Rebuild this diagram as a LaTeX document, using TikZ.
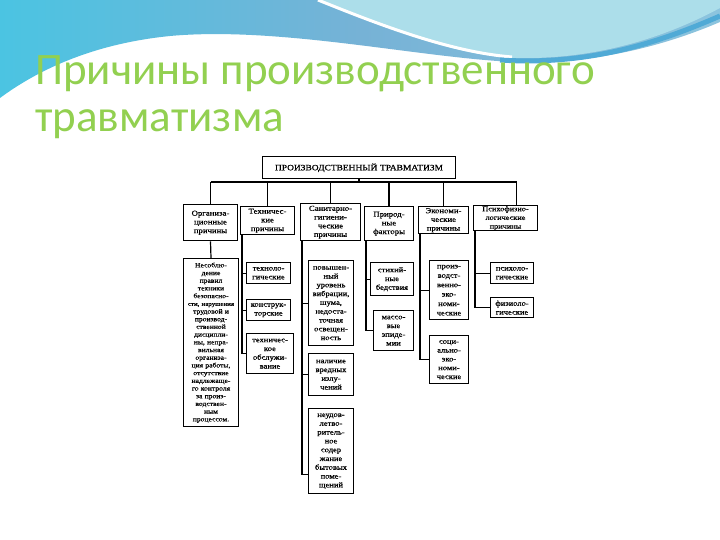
\documentclass[tikz,border=0pt]{standalone}
\usepackage{fontspec}
\setmainfont{Liberation Serif}
\newfontfamily\titlefont{Carlito}
\newfontfamily\scanfont{Liberation Serif}[FakeStretch=1.15, FakeBold=0.8]
\usetikzlibrary{calc}
\definecolor{titlegreen}{RGB}{146,208,80}
\definecolor{wavea}{RGB}{118,178,214}
\definecolor{waveb}{RGB}{140,196,222}
\definecolor{wavec}{RGB}{75,196,226}
\definecolor{swoosh}{RGB}{172,222,234}
\definecolor{stripe}{RGB}{80,170,214}
\tikzset{
  bx/.style={draw, line width=1.4pt, inner sep=0.3pt, align=center, anchor=north west,
    font=\scanfont\fontsize{7.4}{8.8}\selectfont},
  cat/.style={bx, font=\scanfont\fontsize{7.6}{8.7}\selectfont},
  ln/.style={line width=1.2pt},
  ttl/.style={anchor=base west, inner sep=0pt, text=titlegreen, font=\titlefont\fontsize{45}{50}\selectfont}
}
\begin{document}
\begin{tikzpicture}[x=1pt,y=-1pt]
\useasboundingbox (0,0) rectangle (720,540);
\fill[white] (0,0) rectangle (720,540);
% top wave
\shade[left color=wavec, right color=waveb, middle color=wavea]
  (0,0) -- (720,0) -- (720,22) .. controls (650,52) and (580,64) .. (515,62)
  .. controls (420,58) and (280,26) .. (170,36) .. controls (90,44) and (35,72) .. (0,98) -- cycle;
\fill[swoosh] (318,0) .. controls (380,25) and (450,55) .. (515,58)
  .. controls (600,60) and (670,35) .. (720,8) -- (720,0) -- cycle;
\draw[white, line width=3pt] (318,0) .. controls (380,25) and (450,52) .. (512,57);
\draw[stripe, line width=5pt] (500,60) .. controls (590,66) and (660,42) .. (720,16);
% title
\node[ttl] (t1) at (35,85) {Причины производственного};
\node[ttl] (t2) at (35,132) {травматизма};
% diagram
\node[bx, text width=192pt, minimum height=22pt, font=\scanfont\fontsize{8.2}{9}\selectfont] (top) at (262,156) {ПРОИЗВОДСТВЕННЫЙ ТРАВМАТИЗМ};
\node[cat, text width=53pt, minimum height=36pt] (c1) at (183,204) {Организа-\\ционные\\причины};
\node[cat, text width=53pt, minimum height=28pt] (c2) at (240,206) {Техничес-\\кие\\причины};
\node[cat, text width=59pt, minimum height=37pt] (c3) at (300,203) {Санитарно-\\гигиени-\\ческие\\причины};
\node[cat, text width=48pt, minimum height=34pt] (c4) at (364,206) {Природ-\\ные\\факторы};
\node[cat, text width=49pt, minimum height=27pt] (c5) at (418,206) {Экономи-\\ческие\\причины};
\node[cat, text width=63pt, minimum height=25pt, font=\scanfont\fontsize{7.2}{8.7}\selectfont] (c6) at (473,205) {Психофизио-\\логические\\причины};
\node[bx, text width=54pt, minimum height=168pt, font=\scanfont\fontsize{6.6}{7.7}\selectfont] (d1) at (183,258)
  {Несоблю-\\дение\\правил\\техники\\безопасно-\\{\fontsize{6}{7.7}\selectfont сти,~нарушения}\\трудовой~и\\производ-\\ственной\\дисципли-\\ны,~непра-\\вильная\\организа-\\ция~работы,\\отсутствие\\надлежаще-\\го~контроля\\за~произ-\\водствен-\\ным\\процессом.};
\node[bx, text width=43pt, minimum height=21pt] (d2a) at (246,262) {техноло-\\гические};
\node[bx, text width=43pt, minimum height=21pt] (d2b) at (246,299) {конструк-\\торские};
\node[bx, text width=46pt, minimum height=40pt] (d2c) at (246,333) {техничес-\\кое\\обслужи-\\вание};
\node[bx, text width=44pt, minimum height=85pt] (d3a) at (308,260) {повышен-\\ный\\уровень\\вибрации,\\шума,\\недоста-\\точная\\освещен-\\ность};
\node[bx, text width=44pt, minimum height=42pt] (d3b) at (308,353) {наличие\\вредных\\излу-\\чений};
\node[bx, text width=44pt, minimum height=85pt] (d3c) at (308,408) {неудов-\\летво-\\ритель-\\ное\\содер\\жание\\бытовых\\поме-\\щений};
\node[bx, text width=42pt, minimum height=33pt] (d4a) at (370,262) {стихий-\\ные\\бедствия};
\node[bx, text width=39pt, minimum height=40pt] (d4b) at (373,310) {массо-\\вые\\эпиде-\\мии};
\node[bx, text width=38pt, minimum height=59pt, font=\scanfont\fontsize{7.4}{9.4}\selectfont] (d5a) at (429,260) {произ-\\водст-\\венно-\\эко-\\номи-\\ческие};
\node[bx, text width=38pt, minimum height=48pt] (d5b) at (429,335) {соци-\\ально-\\эко-\\номи-\\ческие};
\node[bx, text width=42pt, minimum height=21pt] (d6a) at (490,262) {психоло-\\гические};
\node[bx, text width=42pt, minimum height=20pt] (d6b) at (490,297) {физиоло-\\гические};
% connectors
\coordinate (bar) at (0,182);
\draw[ln] (top.south) -- (top.south |- bar);
\draw[ln] (c1.north |- bar) -- ([xshift=11pt]c6.north |- bar);
\foreach \n in {c1,c2,c3,c4,c5} \draw[ln] (\n.north |- bar) -- (\n.north);
\draw[ln] ([xshift=11pt]c6.north |- bar) -- ([xshift=11pt]c6.north);
\draw[ln] (c1.south) -- (d1.north);
\draw[ln] ([xshift=2pt]c2.south west) |- (d2a.west);
\draw[ln] ([xshift=2pt]c2.south west) |- (d2b.west);
\draw[ln] ([xshift=2pt]c2.south west) |- (d2c.west);
\draw[ln] ([xshift=2pt]c3.south west) |- (d3a.west);
\draw[ln] ([xshift=2pt]c3.south west) |- (d3b.west);
\draw[ln] ([xshift=2pt]c3.south west) |- ([yshift=-23pt]d3c.west);
\draw[ln] ([xshift=2pt]c4.south west) |- (d4a.west);
\draw[ln] ([xshift=2pt]c4.south west) |- (d4b.west);
\draw[ln] ([xshift=2pt]c5.south west) |- (d5a.west);
\draw[ln] ([xshift=2pt]c5.south west) |- (d5b.west);
\draw[ln] ([xshift=2pt]c6.south west) |- (d6a.west);
\draw[ln] ([xshift=2pt]c6.south west) |- (d6b.west);
\end{tikzpicture}
\end{document}
